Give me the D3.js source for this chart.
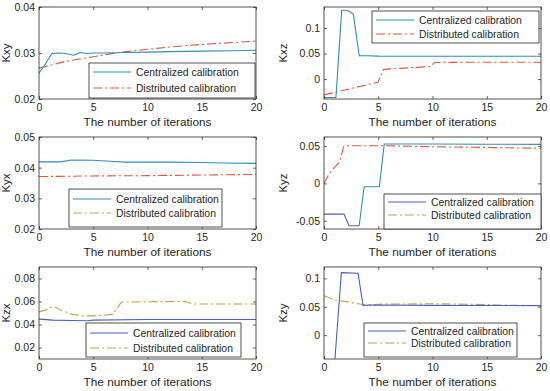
<!DOCTYPE html>
<html>
<head>
<meta charset="utf-8">
<script src="https://cdn.jsdelivr.net/npm/d3@7"></script>
<style>
  body { margin: 0; background: #fff; }
  text { font-family: Arial, "Liberation Sans", sans-serif; fill: #262626; }
</style>
</head>
<body>
<svg id="chart" width="550" height="391"></svg>
<script>
// ---- data ----
const iterTicks = [0, 5, 10, 15, 20];
const seriesNames = ["Centralized calibration", "Distributed calibration"];

const kxyCentral = [[0,0.0256],[0.55,0.0275],[1.2,0.0299],[1.8,0.0300],[2.4,0.0299],[3.2,0.0295],[3.8,0.0301],[4.4,0.0299],[5,0.0300],[6,0.0300],[8,0.0301],[10,0.0302],[12,0.0303],[15,0.0304],[18,0.0305],[20,0.0306]];
const kxyDistributed = [[0,0.0267],[1,0.0273],[2,0.0279],[3,0.0284],[4,0.0288],[5,0.0292],[6,0.0296],[7,0.0300],[8,0.0303],[10,0.0308],[12,0.0313],[14,0.0317],[16,0.0320],[18,0.0323],[20,0.0326]];
const kxyTicks = [0.02, 0.03, 0.04];
const kxyRange = [0.02, 0.04];

const kxzCentral = [[0,-0.036],[1.1,-0.036],[1.63,0.1345],[2.1,0.1345],[2.35,0.132],[2.7,0.127],[3.25,0.0457],[4,0.0455],[5,0.0448],[10,0.0447],[20,0.0447]];
const kxzDistributed = [[0,-0.031],[1,-0.026],[2,-0.021],[3,-0.016],[4,-0.011],[4.95,-0.0065],[5.5,0.019],[7,0.021],[9.8,0.0245],[10.2,0.0325],[15,0.033],[20,0.033]];
const kxzTicks = [0, 0.05, 0.1];
const kxzRange = [-0.039, 0.141];

const kyxCentral = [[0,0.0419],[2,0.0419],[3,0.0425],[5,0.0424],[6.5,0.0421],[8,0.0418],[12,0.0418],[15,0.0417],[17,0.0415],[20,0.0414]];
const kyxDistributed = [[0,0.0371],[5,0.0373],[10,0.0374],[15,0.0376],[20,0.0378]];
const kyxTicks = [0.02, 0.03, 0.04, 0.05];
const kyxRange = [0.02, 0.05];

const kyzCentral = [[0,-0.0411],[1.85,-0.0411],[2.3,-0.0567],[3.24,-0.0567],[3.7,-0.0045],[5.1,-0.0045],[5.55,0.0527],[10,0.0526],[15,0.0524],[20,0.0522]];
const kyzDistributed = [[0,0],[0.5,0.0134],[1.45,0.029],[1.8,0.049],[2.2,0.0504],[5.5,0.0504],[10,0.049],[15,0.048],[20,0.0469]];
const kyzTicks = [-0.05, 0, 0.05];
const kyzRange = [-0.061, 0.062];

const kzxCentral = [[0,0.0447],[1.3,0.0438],[3,0.0435],[4.5,0.0433],[5,0.0438],[10,0.0444],[15,0.0444],[20,0.0444]];
const kzxDistributed = [[0,0.0510],[0.6,0.0525],[1.3,0.0560],[2,0.0525],[3,0.0490],[4,0.0475],[5,0.0475],[6,0.0480],[6.8,0.0490],[7.6,0.0595],[10,0.0598],[13.5,0.0600],[14.2,0.0578],[20,0.0578]];
const kzxTicks = [0.02, 0.04, 0.06, 0.08];
const kzxRange = [0.01, 0.09];

const kzyCentral = [[0,-0.07],[0.9,-0.07],[1.6,0.110],[3.14,0.109],[3.6,0.052],[4.1,0.053],[10,0.0525],[20,0.052]];
const kzyDistributed = [[0,0.0695],[1,0.062],[2,0.059],[3,0.056],[3.8,0.053],[5,0.0545],[10,0.0553],[15,0.054],[16,0.053],[20,0.052]];
const kzyTicks = [0, 0.05, 0.1];
const kzyRange = [-0.042, 0.12];

// ---- styling ----
const teal = "#2d8fbf", red = "#e5573b", blue = "#4763c3", olive = "#c2a444";
const dashDot = "9,3,2,3";

const panels = [
  { label: "Kxy", central: kxyCentral, dist: kxyDistributed, ticks: kxyTicks, range: kxyRange,
    cColor: teal, dColor: red, legC: teal, legD: red, leg: [89, 63, 166, 35, 9, 25] },
  { label: "Kxz", central: kxzCentral, dist: kxzDistributed, ticks: kxzTicks, range: kxzRange,
    cColor: teal, dColor: red, legC: teal, legD: red, leg: [372, 11, 167, 32, 9, 23] },
  { label: "Kyx", central: kyxCentral, dist: kyxDistributed, ticks: kyxTicks, range: kyxRange,
    cColor: teal, dColor: red, legC: teal, legD: olive, leg: [69, 189, 153, 38, 10, 24] },
  { label: "Kyz", central: kyzCentral, dist: kyzDistributed, ticks: kyzTicks, range: kyzRange,
    cColor: blue, cColor2: teal, split: 3.24, dColor: red, legC: blue, legD: olive, leg: [384, 194, 157, 35, 8, 21] },
  { label: "Kzx", central: kzxCentral, dist: kzxDistributed, ticks: kzxTicks, range: kzxRange,
    cColor: blue, dColor: olive, legC: blue, legD: olive, leg: [86, 323, 155, 34, 10, 25] },
  { label: "Kzy", central: kzyCentral, dist: kzyDistributed, ticks: kzyTicks, range: kzyRange,
    cColor: blue, dColor: olive, legC: blue, legD: olive, leg: [364, 323, 153, 34, 8, 20] }
];

const svg = d3.select("#chart");
const fmt = (d) => String(+d.toFixed(3));

panels.forEach((p, i) => {
  const col = i % 2, row = Math.floor(i / 2);
  const left = col ? 324 : 39, right = col ? 541 : 256;
  const top = [7, 137, 267][row], bottom = top + 92;

  const x = d3.scaleLinear().domain([0, 20]).range([left, right]);
  const y = d3.scaleLinear().domain(p.range).range([bottom, top]);
  const g = svg.append("g");

  g.append("clipPath").attr("id", "clip" + i)
    .append("rect").attr("x", left).attr("y", top).attr("width", right - left).attr("height", bottom - top);

  const line = d3.line().x((d) => x(d[0])).y((d) => y(d[1]));
  const plot = g.append("g").attr("clip-path", `url(#clip${i})`);

  // distributed first, centralized on top
  plot.append("path").attr("d", line(p.dist))
    .attr("fill", "none").attr("stroke", p.dColor).attr("stroke-width", 1.1)
    .attr("stroke-dasharray", dashDot);

  if (p.split !== undefined) {
    plot.append("path").attr("d", line(p.central.filter((d) => d[0] <= p.split)))
      .attr("fill", "none").attr("stroke", p.cColor).attr("stroke-width", 1.1);
    plot.append("path").attr("d", line(p.central.filter((d) => d[0] >= p.split)))
      .attr("fill", "none").attr("stroke", p.cColor2).attr("stroke-width", 1.1);
  } else {
    plot.append("path").attr("d", line(p.central))
      .attr("fill", "none").attr("stroke", p.cColor).attr("stroke-width", 1.1);
  }

  // axes (ticks inside, mirrored)
  const axB = g.append("g").attr("transform", `translate(0,${bottom})`)
    .call(d3.axisBottom(x).tickValues(iterTicks).tickSize(-3).tickPadding(5));
  const axT = g.append("g").attr("transform", `translate(0,${top})`)
    .call(d3.axisTop(x).tickValues(iterTicks).tickSize(-3).tickFormat(""));
  const axL = g.append("g").attr("transform", `translate(${left},0)`)
    .call(d3.axisLeft(y).tickValues(p.ticks).tickSize(-3).tickPadding(4).tickFormat(fmt));
  const axR = g.append("g").attr("transform", `translate(${right},0)`)
    .call(d3.axisRight(y).tickValues(p.ticks).tickSize(-3).tickFormat(""));
  [axB, axT, axL, axR].forEach((a) => {
    a.select(".domain").remove();
    a.selectAll("line").attr("stroke", "#262626").attr("stroke-width", 0.7);
    a.selectAll("text").attr("font-size", 10.5).attr("fill", "#262626")
      .style("font-family", 'Arial, "Liberation Sans", sans-serif');
  });

  g.append("rect").attr("x", left).attr("y", top)
    .attr("width", right - left).attr("height", bottom - top)
    .attr("fill", "none").attr("stroke", "#262626").attr("stroke-width", 0.8);

  // titles
  g.append("text").attr("x", (left + right) / 2).attr("y", bottom + 27)
    .attr("text-anchor", "middle").attr("font-size", 11.8)
    .text("The number of iterations");
  g.append("text")
    .attr("transform", `translate(${left - (col ? 37 : 29)},${(top + bottom) / 2}) rotate(-90)`)
    .attr("text-anchor", "middle").attr("font-size", 11.5)
    .text(p.label);

  // legend
  const [lx, ly, lw, lh, o1, o2] = p.leg;
  const leg = g.append("g");
  leg.append("rect").attr("x", lx).attr("y", ly).attr("width", lw).attr("height", lh)
    .attr("fill", "#fff").attr("stroke", "#262626").attr("stroke-width", 0.8);
  [[o1, p.legC, null, seriesNames[0]], [o2, p.legD, dashDot, seriesNames[1]]].forEach(([o, c, dash, name]) => {
    leg.append("line").attr("x1", lx + 4).attr("x2", lx + 42)
      .attr("y1", ly + o).attr("y2", ly + o)
      .attr("stroke", c).attr("stroke-width", 1.1).attr("stroke-dasharray", dash);
    leg.append("text").attr("x", lx + 47).attr("y", ly + o).attr("dy", "0.35em")
      .attr("font-size", 10.4).text(name);
  });
});
</script>
</body>
</html>
